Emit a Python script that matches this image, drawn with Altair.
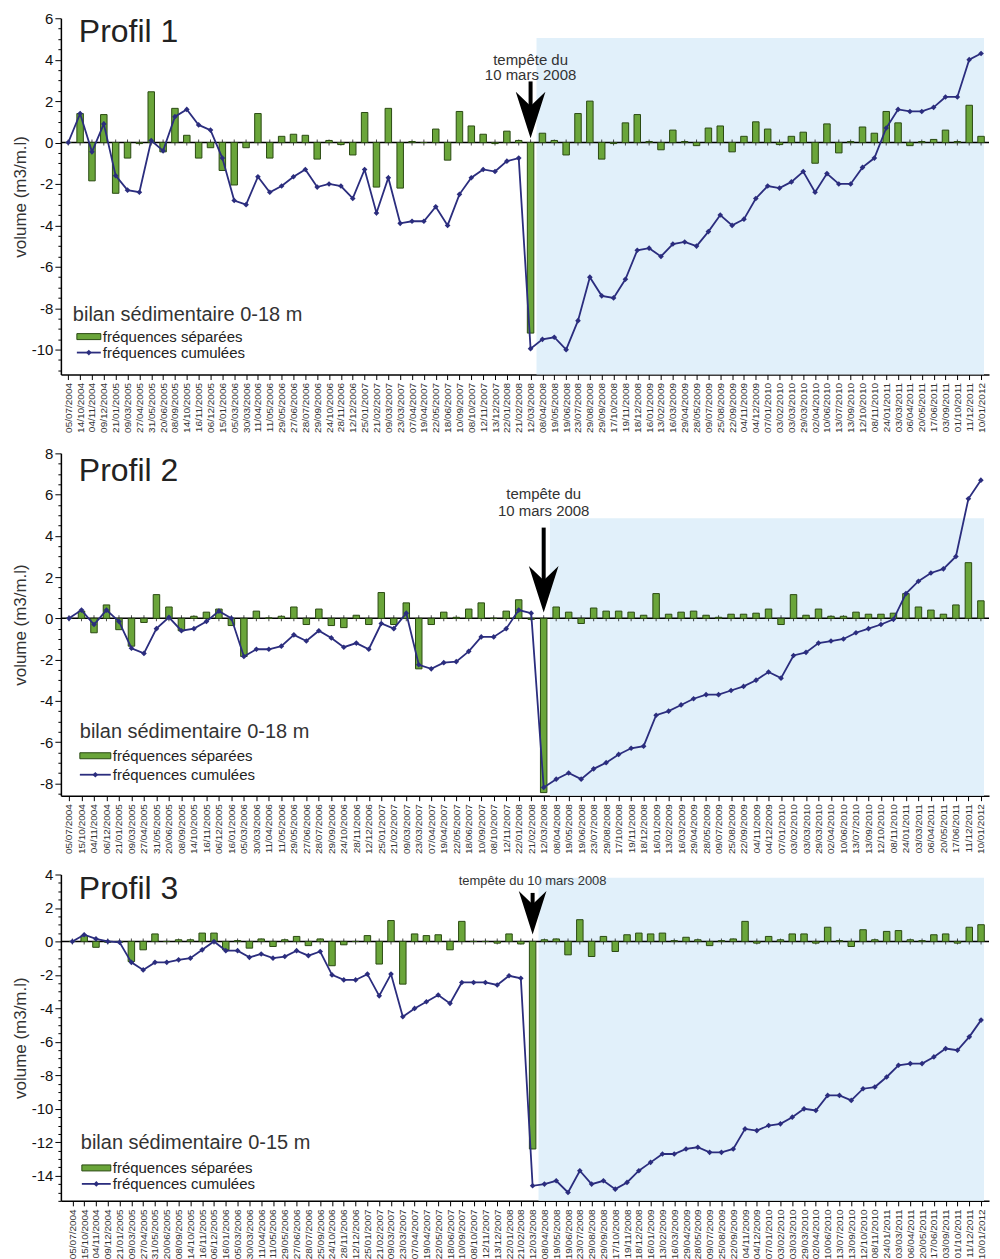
import altair as alt
import pandas as pd
import numpy as np

# ---------------- data ----------------
dates_1 = ["05/07/2004","14/10/2004","04/11/2004","09/12/2004","21/01/2005","09/03/2005","27/04/2005","31/05/2005",
           "20/06/2005","08/09/2005","14/10/2005","16/11/2005","06/12/2005","15/01/2006","05/03/2006","30/03/2006",
           "11/04/2006","11/05/2006","29/05/2006","27/06/2006","28/07/2006","29/09/2006","24/10/2006","28/11/2006",
           "12/12/2006","25/01/2007","21/02/2007","09/03/2007","23/03/2007","07/04/2007","19/04/2007","22/05/2007",
           "18/06/2007","10/09/2007","08/10/2007","12/11/2007","13/12/2007","22/01/2008","21/02/2008","12/03/2008",
           "08/04/2008","19/05/2008","19/06/2008","23/07/2008","29/08/2008","29/09/2008","17/10/2008","19/11/2008",
           "18/12/2008","16/01/2009","13/02/2009","16/03/2009","29/04/2009","28/05/2009","09/07/2009","25/08/2009",
           "22/09/2009","04/11/2009","04/12/2009","07/01/2010","03/02/2010","03/03/2010","29/03/2010","02/04/2010",
           "10/06/2010","13/07/2010","13/09/2010","12/10/2010","08/11/2010","24/01/2011","03/03/2011","06/04/2011",
           "20/05/2011","17/06/2011","03/09/2011","01/10/2011","11/12/2011","10/01/2012"]
sep_1 = [0, 1.4, -1.85, 1.35, -2.45, -0.75, -0.05, 2.45, -0.45, 1.65, 0.35, -0.75, -0.25, -1.35, -2.05, -0.25,
         1.4, -0.75, 0.3, 0.4, 0.35, -0.8, 0.1, -0.1,
         -0.6, 1.45, -2.15, 1.65, -2.2, 0.05, 0.0, 0.65, -0.85, 1.5, 0.8, 0.4, -0.05, 0.55, 0.1, -9.2,
         0.45, 0.1, -0.6, 1.4, 2.0, -0.8, -0.05, 0.95, 1.35, 0.05, -0.35,
         0.6, 0.05, -0.15, 0.7, 0.8, -0.45, 0.3, 1.0, 0.65, -0.1, 0.3, 0.5, -1.0, 0.9, -0.5, 0.05, 0.75, 0.45,
         1.5, 0.95, -0.15, 0.05, 0.15, 0.6, 0.05, 1.8, 0.3]
cum_1 = [0, 1.4, -0.45, 0.9, -1.6, -2.3, -2.4, 0.1, -0.4, 1.25, 1.6, 0.85, 0.6, -0.75, -2.8, -3.0, -1.65, -2.4,
         -2.1, -1.65, -1.3, -2.15, -2.0, -2.1, -2.7, -1.3, -3.4, -1.7, -3.9, -3.8, -3.8, -3.1, -4.0, -2.5, -1.7,
         -1.3, -1.4, -0.9, -0.75, -9.95,
         -9.5, -9.4, -10.0, -8.6, -6.5, -7.4, -7.5, -6.6, -5.2, -5.1, -5.5,
         -4.9, -4.8, -5.0, -4.3, -3.5, -4.0, -3.7, -2.7, -2.1, -2.2, -1.9, -1.4, -2.4, -1.5, -2.0, -2.0, -1.2,
         -0.75, 0.7, 1.6, 1.5, 1.5, 1.7, 2.2, 2.2, 4.0, 4.3]

dates_2 = ["05/07/2004","15/10/2004","04/11/2004","06/12/2004","21/01/2005","09/03/2005","27/04/2005","31/05/2005",
           "20/06/2005","08/09/2005","14/10/2005","16/11/2005","06/12/2005","16/01/2006","05/03/2006","30/03/2006",
           "11/04/2006","11/05/2006","29/05/2006","27/06/2006","28/07/2006","29/09/2006","24/10/2006","28/11/2006",
           "12/12/2006","25/01/2007","21/02/2007","09/03/2007","23/03/2007","07/04/2007","19/04/2007","22/05/2007",
           "18/06/2007","10/09/2007","08/10/2007","12/11/2007","22/01/2008","21/02/2008","12/03/2008",
           "08/04/2008","19/05/2008","19/06/2008","23/07/2008","29/08/2008","17/10/2008","19/11/2008","18/12/2008",
           "16/01/2009","13/02/2009","16/03/2009","29/04/2009","28/05/2009","09/07/2009","25/08/2009","22/09/2009",
           "04/11/2009","04/12/2009","07/01/2010","03/02/2010","03/03/2010","29/03/2010","02/04/2010","10/06/2010",
           "13/07/2010","13/09/2010","12/10/2010","08/11/2010","24/01/2011","03/03/2011","06/04/2011","20/05/2011",
           "17/06/2011","11/12/2011","10/01/2012"]
sep_2 = [0, 0.35, -0.7, 0.65, -0.55, -1.35, -0.2, 1.15, 0.55, -0.6, 0.1, 0.3, 0.45, -0.35, -1.85, 0.35, 0.02,
         0.1, 0.55, -0.3, 0.45, -0.35, -0.45, 0.15, -0.3, 1.25, -0.3, 0.75, -2.45, -0.3, 0.3, 0.05, 0.45, 0.75,
         0.0, 0.35, 0.9, -0.05,
         -8.45, 0.55, 0.3, -0.25, 0.5, 0.35, 0.35, 0.3, 0.15, 1.2, 0.2, 0.3, 0.35, 0.15, 0.05, 0.2, 0.2, 0.25,
         0.45, -0.3, 1.15, 0.15, 0.45, 0.1, 0.1, 0.3, 0.2, 0.2, 0.25, 1.2, 0.55, 0.4, 0.2, 0.65, 2.7, 0.85]
cum_2 = [0, 0.4, -0.3, 0.4, -0.15, -1.45, -1.7, -0.5, 0.05, -0.6, -0.5, -0.15, 0.35, 0.0, -1.85, -1.5, -1.5,
         -1.35, -0.8, -1.1, -0.6, -0.95, -1.4, -1.2, -1.5, -0.25, -0.5, 0.25, -2.25, -2.45, -2.15, -2.1, -1.6,
         -0.9, -0.9, -0.5, 0.4, 0.25,
         -8.2, -7.8, -7.5, -7.8, -7.3, -7.0, -6.6, -6.3, -6.2, -4.7, -4.5, -4.2, -3.9, -3.7, -3.7, -3.5, -3.3,
         -3.0, -2.6, -2.9, -1.8, -1.65, -1.2, -1.1, -1.0, -0.7, -0.5, -0.3, -0.05, 1.2, 1.8, 2.2, 2.4, 3.0,
         5.8, 6.7]

dates_3 = ["05/07/2004","15/10/2004","04/11/2004","09/12/2004","21/01/2005","09/03/2005","27/04/2005","31/05/2005",
           "20/06/2005","08/09/2005","14/10/2005","16/11/2005","06/12/2005","16/01/2006","05/03/2006","30/03/2006",
           "11/04/2006","11/05/2006","29/05/2006","27/06/2006","28/07/2006","25/09/2006","24/10/2006","28/11/2006",
           "12/12/2006","25/01/2007","21/02/2007","09/03/2007","23/03/2007","07/04/2007","19/04/2007","22/05/2007",
           "18/06/2007","10/09/2007","08/10/2007","12/11/2007","13/12/2007","22/01/2008","21/02/2008","12/03/2008",
           "08/04/2008","19/05/2008","19/06/2008","23/07/2008","29/08/2008","29/09/2008","17/10/2008","19/11/2008",
           "18/12/2008","16/01/2009","13/02/2009","16/03/2009","29/04/2009","28/05/2009","09/07/2009","25/08/2009",
           "22/09/2009","04/11/2009","04/12/2009","07/01/2010","03/02/2010","03/03/2010","29/03/2010","02/04/2010",
           "10/06/2010","13/07/2010","13/09/2010","12/10/2010","08/11/2010","24/01/2011","03/03/2011","06/04/2011",
           "20/05/2011","17/06/2011","03/09/2011","01/10/2011","11/12/2011","10/01/2012"]
sep_3 = [0, 0.35, -0.35, -0.05, -0.05, -1.2, -0.5, 0.45, 0.0, 0.1, 0.1, 0.5, 0.5, -0.5, 0.05, -0.4, 0.15, -0.3,
         0.1, 0.3, -0.25, 0.15, -1.45, -0.2, 0.0, 0.35, -1.35, 1.25, -2.55, 0.45, 0.35, 0.4, -0.5, 1.2, 0.0, 0.0,
         -0.1, 0.45, -0.15, -12.4,
         0.1, 0.15, -0.8, 1.3, -0.9, 0.3, -0.6, 0.4, 0.5, 0.45, 0.5, 0.05, 0.25, 0.1, -0.25, 0.05, 0.15, 1.2,
         -0.1, 0.3, 0.1, 0.45, 0.45, -0.1, 0.85, 0.05, -0.3, 0.7, 0.1, 0.6, 0.65, 0.1, 0.05, 0.4, 0.45, -0.1,
         0.85, 1.0]
cum_3 = [0, 0.4, 0.15, 0.0, -0.05, -1.25, -1.7, -1.25, -1.25, -1.1, -1.0, -0.5, 0.0, -0.55, -0.55, -0.95, -0.75,
         -1.0, -0.9, -0.55, -0.85, -0.6, -2.0, -2.3, -2.3, -1.95, -3.25, -1.95, -4.5, -4.0, -3.6, -3.2, -3.7,
         -2.45, -2.45, -2.45, -2.6, -2.05, -2.2, -14.6,
         -14.5, -14.3, -15.0, -13.7, -14.5, -14.3, -14.8, -14.4, -13.7, -13.2, -12.7, -12.7, -12.4, -12.3, -12.6,
         -12.6, -12.4, -11.2, -11.3, -11.0, -10.9, -10.5, -10.0, -10.1, -9.2, -9.2, -9.5, -8.8, -8.7, -8.1, -7.4,
         -7.3, -7.3, -6.9, -6.4, -6.5, -5.7, -4.7]

STORM_DATE = "12/03/2008"

# ---------------- style ----------------
FONT = "Liberation Sans"
GREEN = "#6aa53a"
GREEN_EDGE = "#2a4a12"
NAVY = "#2b2d7e"
SHADE = "#e1f0fa"
W = 930
ARROW = "M0,1 L-0.62,-0.95 L0,-0.35 L0.62,-0.95 Z"


def panel(name, dates, sep, cum, ydom, height, xdom, shade_top, storm_lines, storm_fs, arrow_y, arrow_size,
          leg, x_extent, bilan):
    n = len(dates)
    storm = dates.index(STORM_DATE)
    df = pd.DataFrame({"i": list(range(n)), "date": dates, "sep": sep, "cum": cum})
    lab = "[" + ",".join("'%s'" % d for d in dates) + "][datum.value]"
    xs = alt.Scale(domain=xdom, nice=False, zero=False)
    ys = alt.Scale(domain=ydom, nice=False, zero=False)
    yvals = [round(float(v), 1) for v in np.arange(np.ceil(ydom[0] * 2) / 2, ydom[1] + 0.01, 0.5)]
    xaxis = alt.Axis(values=list(range(n)), labelExpr=lab, labelAngle=270, labelFontSize=10,
                     labelColor="#333", labelFont=FONT, tickSize=5, tickColor="black", domainColor="black",
                     domainWidth=1.5, grid=False, title=None, labelOverlap=False, labelFlush=False,
                     labelPadding=3, minExtent=x_extent, maxExtent=x_extent)
    yaxis = alt.Axis(values=yvals, labelExpr="datum.value % 2 === 0 ? '' + datum.value : ''",
                     tickSize={"condition": {"test": "datum.value % 2 === 0", "value": 6}, "value": 3},
                     labelFontSize=15, labelColor="#111", labelFont=FONT, tickColor="black",
                     domainColor="black", domainWidth=1.5, grid=False, labelOverlap=False, labelPadding=2,
                     title="volume (m3/m.l)", titleFontSize=17, titleFontWeight="normal", titleColor="#333",
                     titleFont=FONT, titlePadding=1, minExtent=30, maxExtent=30)

    def X(f):
        return alt.X(f, scale=xs, axis=xaxis)

    def Y(f):
        return alt.Y(f, scale=ys, axis=yaxis)

    shade_df = pd.DataFrame({"x1": [storm + 0.5], "x2": [xdom[1]], "y1": [shade_top], "y2": [ydom[0]]})
    shade = alt.Chart(shade_df).mark_rect(color=SHADE).encode(
        x=X("x1:Q"), x2="x2:Q", y=Y("y1:Q"), y2="y2:Q")

    base = alt.Chart(df).transform_calculate(z="0")
    zero = alt.Chart(pd.DataFrame({"z": [0]})).mark_rule(color="black", strokeWidth=1.5).encode(y=Y("z:Q"))
    zticks = base.mark_tick(orient="vertical", size=6, thickness=1, color="black").encode(
        x=X("i:Q"), y=Y("z:Q"))
    bars = base.mark_bar(size=6.5, color=GREEN, stroke=GREEN_EDGE, strokeWidth=1).encode(
        x=X("i:Q"), y=Y("sep:Q"), y2="z:Q")
    line = base.mark_line(color=NAVY, strokeWidth=1.8).encode(x=X("i:Q"), y=Y("cum:Q"))
    pts = base.mark_point(shape="diamond", filled=True, color=NAVY, size=32, opacity=1).encode(
        x=X("i:Q"), y=Y("cum:Q"))

    st_df = pd.DataFrame({"x": [storm] * len(storm_lines), "y": [s[1] for s in storm_lines],
                          "t": [s[0] for s in storm_lines], "dx": [s[2] for s in storm_lines]})
    st_text = alt.Chart(st_df).mark_text(fontSize=storm_fs, color="#333", font=FONT, baseline="middle").encode(
        x=X("x:Q"), y=Y("y:Q"), text="t:N", xOffset="dx:Q")
    ar_df = pd.DataFrame({"x": [storm], "y1": [arrow_y[0]], "y2": [arrow_y[1]]})
    shaft = alt.Chart(ar_df).mark_rule(color="black", strokeWidth=4).encode(
        x=X("x:Q"), y=Y("y1:Q"), y2="y2:Q")
    head = alt.Chart(ar_df).mark_point(shape=ARROW, filled=True, color="black", size=arrow_size,
                                       opacity=1).encode(x=X("x:Q"), y=Y("y2:Q"))

    one = pd.DataFrame({"k": [0]})
    prof = alt.Chart(one).mark_text(align="left", baseline="middle", fontSize=32, color="#222", font=FONT).encode(
        x=alt.value(leg["profil"][0]), y=alt.value(leg["profil"][1]), text=alt.value(name))
    bil = alt.Chart(one).mark_text(align="left", baseline="middle", fontSize=20, color="#333", font=FONT).encode(
        x=alt.value(leg["bilan"][0]), y=alt.value(leg["bilan"][1]), text=alt.value(bilan))
    sx0, sx1, sy0, sy1 = leg["swatch"]
    sw = alt.Chart(one).mark_rect(color=GREEN, stroke=GREEN_EDGE, strokeWidth=1).encode(
        x=alt.value(sx0), x2=alt.value(sx1), y=alt.value(sy0), y2=alt.value(sy1))
    t1 = alt.Chart(one).mark_text(align="left", baseline="middle", fontSize=15, color="#222", font=FONT).encode(
        x=alt.value(sx1 + 2), y=alt.value((sy0 + sy1) / 2), text=alt.value("fréquences séparées"))
    ly = leg["line_y"]
    lrule = alt.Chart(one).mark_rule(color=NAVY, strokeWidth=1.8).encode(
        x=alt.value(sx0), x2=alt.value(sx1), y=alt.value(ly))
    lpt = alt.Chart(one).mark_point(shape="diamond", filled=True, color=NAVY, size=32, opacity=1).encode(
        x=alt.value((sx0 + sx1) / 2), y=alt.value(ly))
    t2 = alt.Chart(one).mark_text(align="left", baseline="middle", fontSize=15, color="#222", font=FONT).encode(
        x=alt.value(sx1 + 2), y=alt.value(ly), text=alt.value("fréquences cumulées"))

    return alt.layer(shade, zero, zticks, bars, line, pts, st_text, shaft, head,
                     prof, bil, sw, t1, lrule, lpt, t2).properties(width=W, height=height)


p1 = panel("Profil 1", dates_1, sep_1, cum_1, [-11.2, 6], 357, [-0.2, 77.25], 5.05,
           [("tempête du", 4.0, 0), ("10 mars 2008", 3.28, 0)], 15, (2.95, 1.36), 2300,
           {"profil": (18, 14), "bilan": (12, 297), "swatch": (16, 40, 316, 322), "line_y": 335},
           58, "bilan sédimentaire 0-18 m")
p2 = panel("Profil 2", dates_2, sep_2, cum_2, [-8.6, 8], 343, [-0.25, 73.25], 4.85,
           [("tempête du", 6.05, 0), ("10 mars 2008", 5.2, 0)], 15, (4.4, 1.44), 2300,
           {"profil": (18, 18), "bilan": (19, 279), "swatch": (19, 50, 300, 306), "line_y": 322},
           58, "bilan sédimentaire 0-18 m")
p3 = panel("Profil 3", dates_3, sep_3, cum_3, [-15.5, 4], 327, [-0.55, 77.25], 3.8,
           [("tempête du 10 mars 2008", 3.62, -14)], 13, (2.9, 1.75), 2000,
           {"profil": (18, 15), "bilan": (20, 269), "swatch": (21, 50, 291, 297), "line_y": 310},
           45, "bilan sédimentaire 0-15 m")

chart = alt.vconcat(p1, p2, p3, spacing=13).properties(
    padding={"left": 4, "top": 2, "right": 2, "bottom": 0}
).configure(font=FONT).configure_view(stroke=None)

chart.save("out.html", embed_options={"renderer": "svg", "actions": False})
